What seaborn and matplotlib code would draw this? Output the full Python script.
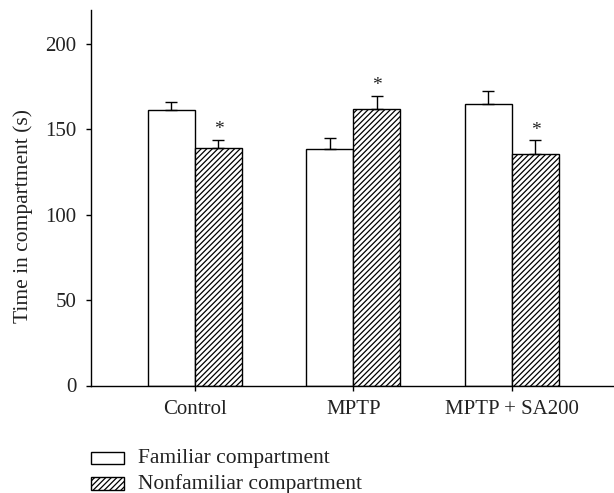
import matplotlib
matplotlib.use("Agg")
import matplotlib.pyplot as plt
from matplotlib.legend_handler import HandlerPatch
import seaborn as sns
import pandas as pd
import numpy as np

groups = ["Control", "MPTP", "MPTP + SA200"]
series = ["Familiar compartment", "Nonfamiliar compartment"]
familiar = [161.3, 138.1, 164.6]
nonfamiliar = [138.9, 161.9, 135.5]
familiar_err = [4.5, 7.0, 7.8]
nonfamiliar_err = [4.7, 7.4, 7.9]
star_labels = ["*", "*", "*"]
yticks = [0, 50, 100, 150, 200]

TXT = "#222222"
sns.set_theme(style="ticks")
plt.rcParams['font.family'] = ['Liberation Serif', 'DejaVu Serif']
plt.rcParams['hatch.linewidth'] = 0.9

df = pd.DataFrame({
    "group": groups * 2,
    "series": [series[0]] * 3 + [series[1]] * 3,
    "value": familiar + nonfamiliar,
})

FS = 15
fig = plt.figure(figsize=(6.14, 4.93), dpi=100)
ax = fig.add_axes([91/614, 1-385.5/493, (614-91)/614, 376/493])
sns.barplot(data=df, x="group", y="value", hue="series", order=groups, hue_order=series,
            palette=["white", "white"], edgecolor="black", linewidth=1.0, width=0.593,
            errorbar=None, ax=ax, legend=False, saturation=1)

for container, errs, hatch in zip(ax.containers, [familiar_err, nonfamiliar_err], [None, "//////"]):
    for bar, e in zip(container, errs):
        if hatch:
            bar.set_hatch(hatch)
        x = bar.get_x() + bar.get_width()/2
        h = bar.get_height()
        ax.errorbar(x, h, yerr=[[0], [e]], color="black", capsize=4, elinewidth=1, capthick=1, zorder=1)

for bar, e, s in zip(ax.containers[1], nonfamiliar_err, star_labels):
    ax.text(bar.get_x()+bar.get_width()/2, bar.get_height()+e+1, s, ha="center", va="bottom",
            fontsize=14, color=TXT)

ax.set_xlim(-0.656, 2.644)
ax.set_ylim(0, 220)
ax.set_yticks(yticks)
ax.set_xlabel("")
ax.set_ylabel("Time in compartment (s)", fontsize=15.5, color=TXT)
ax.yaxis.set_label_coords(-58/523, 0.452)
ax.tick_params(axis="both", labelsize=FS, color="black", labelcolor=TXT, width=1, length=3.6)
ax.tick_params(axis="y", pad=7)
ax.tick_params(axis="x", pad=7)
sns.despine(ax=ax)
for s in ["left", "bottom"]:
    ax.spines[s].set_linewidth(1)
    ax.spines[s].set_color("black")


def raised_box(legend, orig_handle, xdescent, ydescent, width, height, fontsize):
    return plt.Rectangle((-xdescent, -ydescent - 1.6), width, height)


handles = [plt.Rectangle((0,0),1,1, facecolor="white", edgecolor="black", linewidth=1),
           plt.Rectangle((0,0),1,1, facecolor="white", edgecolor="black", linewidth=1, hatch="//////")]
fig.legend(handles, series, loc="lower left", bbox_to_anchor=(91/614, -1/493), frameon=False,
           fontsize=15.5, handlelength=1.55, handleheight=0.5, labelspacing=0.27, handletextpad=0.65,
           borderpad=0, borderaxespad=0, labelcolor=TXT,
           handler_map={plt.Rectangle: HandlerPatch(patch_func=raised_box)})
fig.savefig("out.png", dpi=100)
